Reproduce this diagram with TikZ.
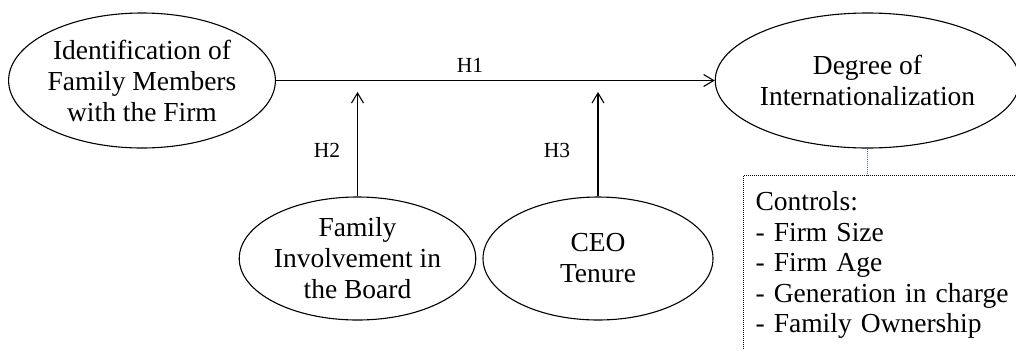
\documentclass[tikz,border=0pt]{standalone}
\usepackage{fontspec}
\setmainfont{Liberation Serif}
\usetikzlibrary{shapes.geometric,arrows.meta}
\definecolor{dotblue}{RGB}{68,114,196}
\tikzset{edge/.style = {-{Straight Barb[length=10pt,width=12pt]}, line width=1.1pt}}
\tikzset{hlabel/.style = {font=\fontsize{21.5}{24}\selectfont, inner sep=0pt}}
\tikzset{ctrlbox/.style = {draw, line width=1pt, dash pattern=on 1pt off 1pt, align=left, text width=300pt, inner xsep=12pt, inner ysep=16pt, font=\fontsize{27.5}{30.5}\selectfont}}

\begin{document}
\begin{tikzpicture}[x=1pt,y=-1pt]
	\useasboundingbox (0,0) rectangle (1016,349);
	\begin{scope}[every node/.style={ellipse,draw,line width=1.1pt,inner sep=0pt,align=center,font=\fontsize{27.5}{31}\selectfont}]
	    \node [minimum width=260pt,minimum height=135pt] (idf) at (142,80.5) {Identification of\\Family Members\\with the Firm};
	    \node [minimum width=251pt,minimum height=135pt] (doi) at (867.5,80.5) {Degree of\\Internationalization};
	    \node [minimum width=231pt,minimum height=123pt] (fib) at (357.5,258.5) {Family\\Involvement in\\the Board};
	    \node [minimum width=230pt,minimum height=123pt] (ceo) at (598,258.5) {CEO\\Tenure};
	\end{scope}
	\coordinate (m2) at (357.5,92);
	\coordinate (m3) at (598,92);
	\node [hlabel] (h1) at (470,65) {H1};
	\node [hlabel] (h2) at (327,150) {H2};
	\node [hlabel] (h3) at (557,150) {H3};
	\node [ctrlbox, anchor=north west] (ctrl) at (743,175) {Controls:\\- Firm Size\\- Firm Age\\- Generation in charge\\- Family Ownership};
	\begin{scope}[every edge/.style={draw=black,edge}]
	    \path (idf) edge (doi);
	    \path (fib) edge (m2);
	    \path (ceo) edge (m3);
	\end{scope}
	\draw [dotblue, line width=1pt, dash pattern=on 1pt off 1pt] (doi.south) -- (doi.south |- ctrl.north);
\end{tikzpicture}
\end{document}
